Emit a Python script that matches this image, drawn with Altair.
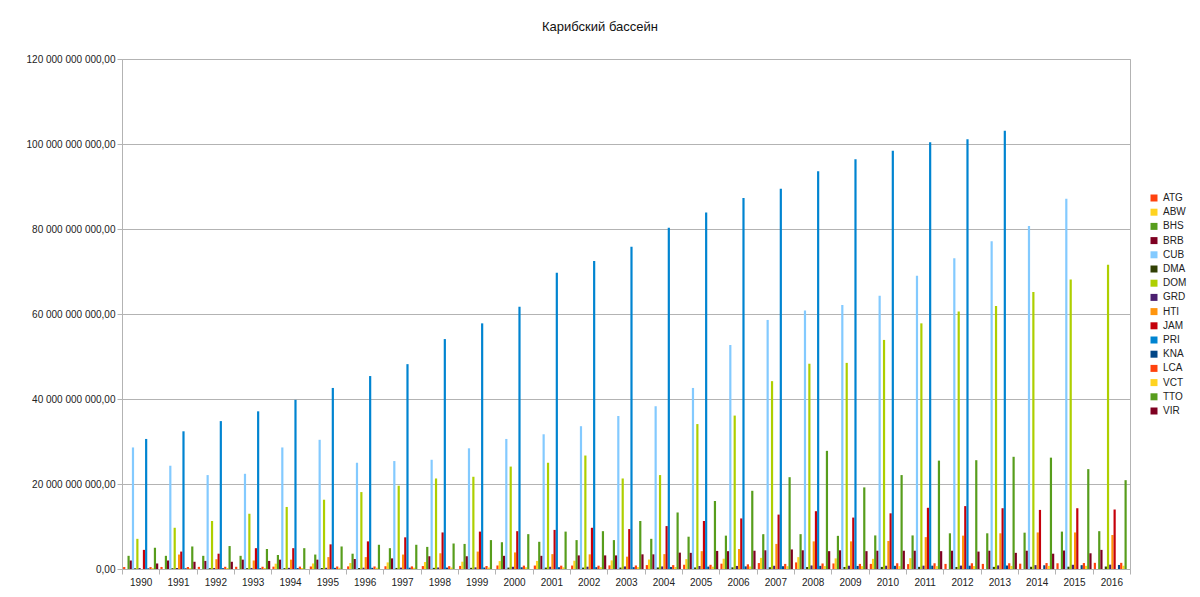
import altair as alt
import pandas as pd

years = [str(y) for y in range(1990, 2017)]
series = ["ATG", "ABW", "BHS", "BRB", "CUB", "DMA", "DOM", "GRD",
          "HTI", "JAM", "PRI", "KNA", "LCA", "VCT", "TTO", "VIR"]
colors = ["#ff420e", "#ffd320", "#579d1c", "#7e0021", "#83caff", "#314004",
          "#aecf00", "#4b1f6f", "#ff950e", "#c5000b", "#0084d1", "#004586",
          "#ff420e", "#ffd320", "#579d1c", "#7e0021"]

# values in billions of US$
ATG = [0.46, 0.48, 0.50, 0.52, 0.55, 0.59, 0.62, 0.65, 0.69, 0.72, 0.83, 0.81, 0.81, 0.85,
       0.92, 1.0, 1.25, 1.4, 1.55, 1.3, 1.2, 1.15, 1.2, 1.2, 1.25, 1.35, 1.45]
ABW = [None, None, None, None, 1.25, 1.3, 1.4, 1.55, 1.65, 1.72, 1.87, 1.9, 1.94, 2.02,
       2.23, 2.33, 2.42, 2.62, 2.79, 2.5, 2.39, 2.55, None, None, None, None, None]
BHS = [3.1, 3.1, 3.1, 3.1, 3.3, 3.4, 3.6, 4.9, 5.2, 5.9, 6.3, 6.4, 6.8, 6.8,
       7.1, 7.6, 7.85, 8.2, 8.2, 7.8, 7.9, 7.9, 8.4, 8.4, 8.55, 8.8, 8.9]
BRB = [2.0, 2.0, 1.9, 2.2, 2.2, 2.2, 2.35, 2.5, 3.0, 3.0, 3.1, 3.1, 3.2, 3.2,
       3.45, 3.8, 4.2, 4.4, 4.4, 4.4, 4.3, 4.3, 4.3, 4.3, 4.3, 4.35, 4.5]
CUB = [28.6, 24.3, 22.1, 22.4, 28.6, 30.4, 25.0, 25.4, 25.7, 28.4, 30.6, 31.7, 33.6, 36.0,
       38.3, 42.6, 52.7, 58.6, 60.8, 62.1, 64.3, 69.0, 73.1, 77.1, 80.7, 87.1, None]
DMA = [0.17, 0.18, 0.19, 0.2, 0.21, 0.23, 0.24, 0.25, 0.27, 0.28, 0.33, 0.33, 0.33, 0.34,
       0.36, 0.36, 0.39, 0.42, 0.46, 0.48, 0.49, 0.5, 0.48, 0.5, 0.52, 0.54, 0.58]
DOM = [7.1, 9.7, 11.3, 13.0, 14.6, 16.3, 18.1, 19.6, 21.3, 21.7, 24.1, 25.0, 26.7, 21.3,
       22.1, 34.1, 36.1, 44.2, 48.3, 48.5, 53.9, 57.8, 60.6, 61.9, 65.2, 68.1, 71.6]
GRD = [0.22, 0.23, 0.24, 0.25, 0.27, 0.28, 0.3, 0.32, 0.35, 0.38, 0.52, 0.52, 0.54, 0.6,
       0.6, 0.7, 0.72, 0.76, 0.83, 0.77, 0.77, 0.78, 0.8, 0.84, 0.91, 0.99, 1.02]
HTI = [None, 3.4, 2.3, 2.0, 2.2, 2.8, 2.8, 3.4, 3.7, 4.1, 3.9, 3.5, 3.45, 2.9,
       3.5, 4.2, 4.7, 5.9, 6.5, 6.5, 6.6, 7.5, 7.85, 8.4, 8.6, 8.6, 8.0]
JAM = [4.5, 4.1, 3.6, 4.9, 4.9, 5.8, 6.5, 7.45, 8.6, 8.8, 8.9, 9.2, 9.7, 9.4,
       10.1, 11.3, 11.9, 12.8, 13.6, 12.1, 13.1, 14.4, 14.8, 14.3, 13.9, 14.3, 14.0]
PRI = [30.6, 32.4, 34.8, 37.1, 39.8, 42.6, 45.4, 48.2, 54.1, 57.8, 61.7, 69.7, 72.5, 75.8,
       80.3, 83.9, 87.3, 89.5, 93.6, 96.4, 98.4, 100.4, 101.1, 103.1, None, None, None]
KNA = [0.16, 0.17, 0.19, 0.2, 0.22, 0.27, 0.28, 0.31, 0.33, 0.35, 0.41, 0.42, 0.43, 0.43,
       0.48, 0.56, 0.62, 0.66, 0.74, 0.72, 0.75, 0.78, 0.77, 0.82, 0.88, 0.9, 0.95]
LCA = [0.45, 0.47, 0.52, 0.53, 0.56, 0.59, 0.6, 0.62, 0.67, 0.7, 0.79, 0.78, 0.78, 0.83,
       0.91, 0.99, 1.1, 1.2, 1.3, 1.2, 1.35, 1.35, 1.35, 1.35, 1.4, 1.4, 1.45]
VCT = [0.2, 0.21, 0.23, 0.23, 0.24, 0.29, 0.3, 0.31, 0.34, 0.35, 0.4, 0.4, 0.42, 0.44,
       0.48, 0.55, 0.6, 0.66, 0.69, 0.67, 0.68, 0.68, 0.69, 0.72, 0.73, 0.75, 0.77]
TTO = [5.0, 5.3, 5.4, 4.7, 4.9, 5.3, 5.7, 5.7, 6.0, 6.8, 8.2, 8.8, 8.9, 11.3,
       13.3, 16.0, 18.4, 21.6, 27.8, 19.2, 22.1, 25.5, 25.6, 26.4, 26.2, 23.5, 20.9]
VIR = [1.3, 1.7, 1.7, 1.9, None, None, None, None, None, None, None, None, 3.2, 3.45,
       3.85, 4.25, 4.3, 4.6, 4.2, 4.2, 4.3, 4.2, 4.1, 3.8, 3.6, 3.7, None]

values = {"ATG": ATG, "ABW": ABW, "BHS": BHS, "BRB": BRB, "CUB": CUB, "DMA": DMA,
          "DOM": DOM, "GRD": GRD, "HTI": HTI, "JAM": JAM, "PRI": PRI, "KNA": KNA,
          "LCA": LCA, "VCT": VCT, "TTO": TTO, "VIR": VIR}

rows = []
for s in series:
    for y, v in zip(years, values[s]):
        if v is not None:
            rows.append({"year": y, "country": s, "value": v * 1e9})
df = pd.DataFrame(rows)

FONT = "Liberation Sans"

chart = alt.Chart(df).mark_bar().encode(
    x=alt.X("year:N", sort=years,
            scale=alt.Scale(domain=years, paddingInner=0, paddingOuter=0),
            axis=alt.Axis(title=None, labelAngle=0, tickBand="extent", tickSize=5,
                          labelFontSize=10, labelFont=FONT, labelColor="#222222",
                          domainColor="#b3b3b3", tickColor="#b3b3b3", grid=False,
                          labelPadding=3)),
    xOffset=alt.XOffset("country:N",
                        scale=alt.Scale(domain=series, paddingInner=0, paddingOuter=0.5)),
    y=alt.Y("value:Q", scale=alt.Scale(domain=[0, 120e9], nice=False),
            axis=alt.Axis(title=None, values=[i * 20e9 for i in range(7)], format=",.2f",
                          labelFontSize=10, labelFont=FONT, labelColor="#222222",
                          tickSize=5, tickColor="#b3b3b3", domainColor="#b3b3b3",
                          gridColor="#b3b3b3", labelPadding=2)),
    color=alt.Color("country:N", scale=alt.Scale(domain=series, range=colors),
                    legend=alt.Legend(title=None, orient="none", legendX=1027, legendY=134,
                                      symbolType="square", symbolSize=49,
                                      symbolStrokeWidth=0, labelFontSize=10,
                                      labelFont=FONT, labelColor="#222222",
                                      rowPadding=4.2, labelOffset=4, padding=0)),
).properties(
    width=1008, height=510,
    title=alt.TitleParams("Карибский бассейн", fontSize=13, font=FONT,
                          fontWeight="normal", color="#111111", offset=20, dx=-26),
    autosize=alt.AutoSizeParams(type="none"),
    padding={"left": 114, "top": 51, "right": 62, "bottom": 28},
).configure(
    locale={"number": {"decimal": ",", "thousands": " ", "grouping": [3],
                       "currency": ["", ""]}}
).configure_view(stroke="#b3b3b3")

chart.save("out.html", embed_options={"renderer": "svg", "actions": False})
